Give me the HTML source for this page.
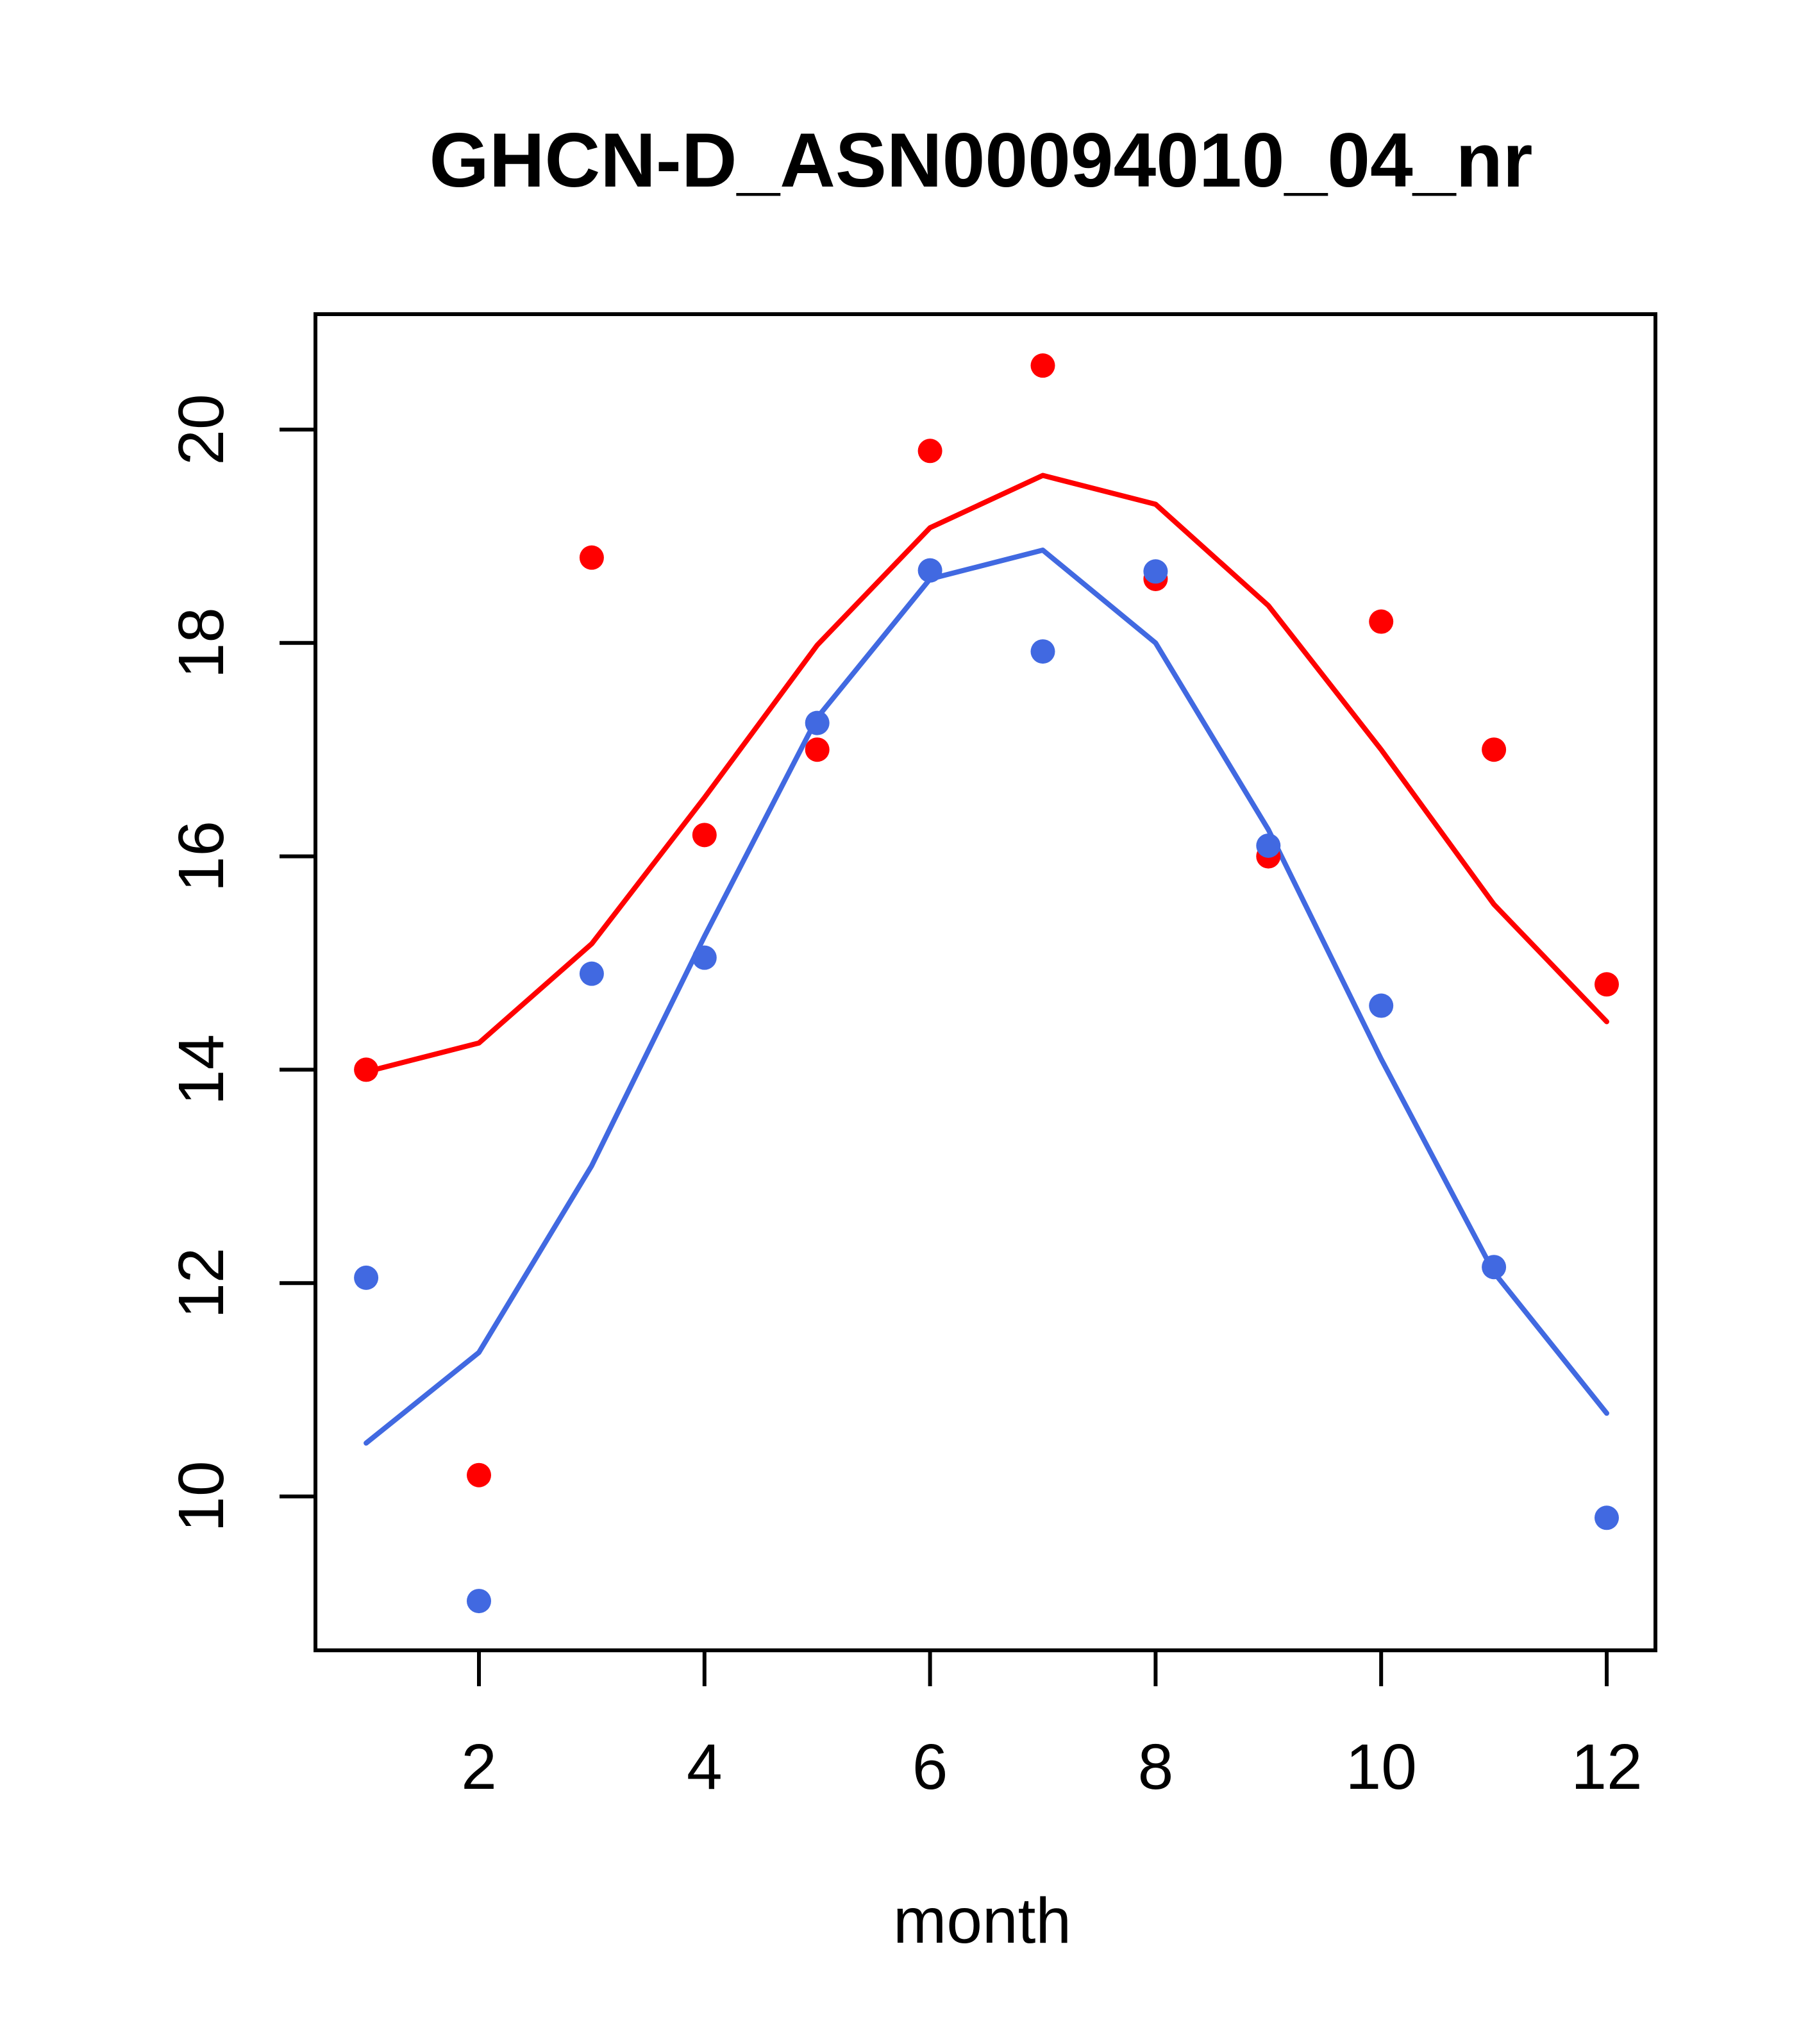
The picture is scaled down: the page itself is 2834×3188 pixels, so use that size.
<!DOCTYPE html>
<html><head><meta charset="utf-8"><style>
html,body{margin:0;padding:0;background:#fff;}
svg{display:block;font-family:"Liberation Sans",Arial,sans-serif;}
</style></head><body>
<svg id="chart" width="2834" height="3188" viewBox="0 0 2834 3188">
<text x="1530" y="291" text-anchor="middle" font-size="120" font-weight="bold">GHCN-D_ASN00094010_04_nr</text>
<rect x="492" y="490" width="2090" height="2084" fill="none" stroke="#000" stroke-width="6"/>
<g id="xaxis"></g>
<g id="yaxis"></g>
<g id="series"></g>
<text x="1532" y="3030" text-anchor="middle" font-size="100">month</text>
</svg>
<script>
const months=[1,2,3,4,5,6,7,8,9,10,11,12];
const redPoints=[14.0,10.2,18.8,16.2,17.0,19.8,20.6,18.6,16.0,18.2,17.0,14.8];
const redLine=[13.98,14.25,15.18,16.55,17.98,19.08,19.57,19.3,18.35,17.0,15.55,14.45];
const bluePoints=[12.05,9.02,14.9,15.05,17.25,18.68,17.92,18.67,16.1,14.6,12.15,9.8];
const blueLine=[10.5,11.35,13.1,15.25,17.3,18.6,18.87,18.0,16.25,14.1,12.1,10.78];
const xTicks=[2,4,6,8,10,12];
const yTicks=[10,12,14,16,18,20];
const NS="http://www.w3.org/2000/svg";
function xs(v){return 747+(v-2)*(2506-747)/10;}
function ys(v){return 2334-(v-10)*(2334-670)/10;}
function mk(t,a,p){const e=document.createElementNS(NS,t);for(const k in a)e.setAttribute(k,a[k]);p.appendChild(e);return e;}
const xa=document.getElementById('xaxis'),ya=document.getElementById('yaxis'),sg=document.getElementById('series');
xTicks.forEach(v=>{
 const l=mk('line',{x1:xs(v),x2:xs(v),y1:2574,y2:2630,stroke:'#000','stroke-width':6},xa);
 
 
 const t=mk('text',{x:xs(v),y:2790,'text-anchor':'middle','font-size':100},xa);
 t.textContent=v;
 
 
});
yTicks.forEach(v=>{
 const l=mk('line',{x1:436,x2:492,y1:ys(v),y2:ys(v),stroke:'#000','stroke-width':6},ya);
 
 
 const t=mk('text',{x:0,y:0,'text-anchor':'middle','font-size':100,transform:`translate(348,${ys(v)}) rotate(-90)`},ya);
 t.textContent=v;
 
 
});
function line(arr,col,name){
 const p=mk('polyline',{points:arr.map((v,i)=>xs(months[i])+','+ys(v)).join(' '),fill:'none',stroke:col,'stroke-width':8,'stroke-linejoin':'round','stroke-linecap':'round'},sg);
 
 
}
function pts(arr,col,name){
 arr.forEach((v,i)=>{
  const c=mk('circle',{cx:xs(months[i]),cy:ys(v),r:19,fill:col},sg);
  
  
 });
}
line(redLine,'#ff0000','red-fit-line');
line(blueLine,'#4169e1','blue-fit-line');
pts(redPoints,'#ff0000','red-point');
pts(bluePoints,'#4169e1','blue-point');
</script>
</body></html>
